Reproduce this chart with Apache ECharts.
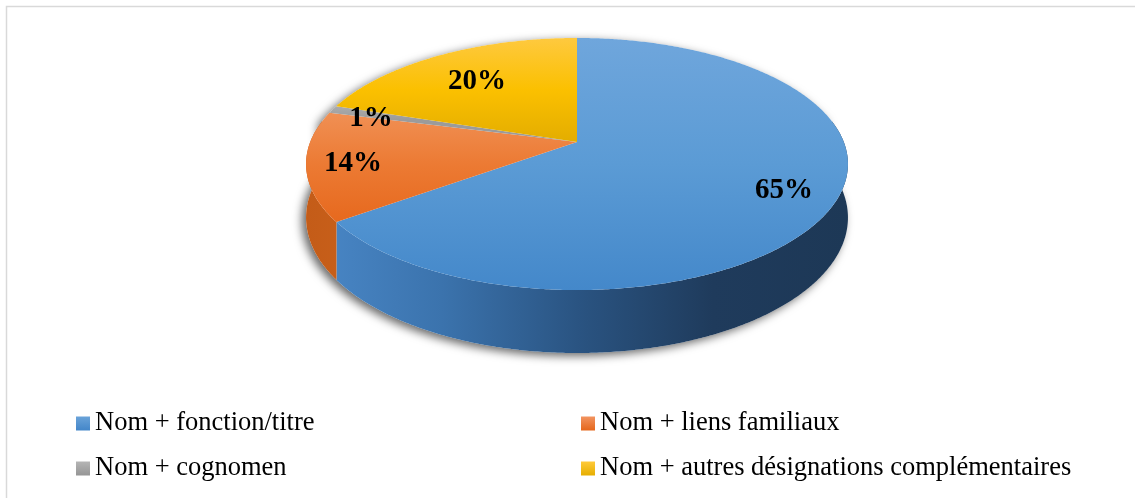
<!DOCTYPE html>
<html>
<head>
<meta charset="utf-8">
<script src="https://cdn.jsdelivr.net/npm/echarts@6/dist/echarts.min.js"></script>
<style>
  html, body { margin: 0; padding: 0; background: #fff; }
  #chart { width: 1135px; height: 498px; }
</style>
</head>
<body>
<div id="chart"></div>
<script>
// données
const categories = [
  'Nom + fonction/titre',
  'Nom + liens familiaux',
  'Nom + cognomen',
  'Nom + autres désignations complémentaires'
];
const values = [65, 14, 1, 20];

// géométrie du camembert 3D (disque vu en perspective)
const CX = 577, CY = 142;      // centre du disque projeté
const RX = 266.8, RY = 122.2;  // rayons
const PERSP = 0.1746;          // force de la perspective
const DEPTH = 52;              // épaisseur
const FONT = '"Liberation Serif", "Times New Roman", serif';

// ancrage des étiquettes, en coordonnées du disque (x, z)
const labelAnchor = [[0.726, 0.368], [-0.815, 0.167], [-0.799, -0.203], [-0.410, -0.537]];

const total = values.reduce((a, b) => a + b, 0);
const starts = [];
values.reduce((acc, v) => { starts.push(acc); return acc + v; }, 0);

function grad(x1, y1, x2, y2, stops) {
  return new echarts.graphic.LinearGradient(x1, y1, x2, y2,
    stops.map((c, k) => ({ offset: k / (stops.length - 1), color: c })), true);
}

const topFill = [
  grad(0, 38, 0, 290, ['#6fa6dc', '#5b9bd5', '#4488ca']),
  grad(0, 105, 0, 225, ['#f19359', '#ec7a33', '#e6681d']),
  grad(0, 100, 0, 120, ['#b3b3b3', '#9b9b9b']),
  grad(0, 38, 0, 142, ['#fec93f', '#fbc000', '#e3ad00'])
];
const wallFill = [
  grad(306, 0, 848, 0, ['#4a88c8', '#3b73ad', '#2a5482', '#1f3b5c', '#1d3856']),
  grad(306, 0, 848, 0, ['#c45c18', '#d46a22', '#a04a10', '#803a0a']),
  grad(306, 0, 848, 0, ['#909090', '#707070']),
  grad(306, 0, 848, 0, ['#c99a00', '#a07800'])
];
const legendFill = [
  grad(0, 0, 0, 1, ['#6aa3d9', '#4386c9']),
  grad(0, 0, 0, 1, ['#f29460', '#e5661b']),
  grad(0, 0, 0, 1, ['#b5b5b5', '#959595']),
  grad(0, 0, 0, 1, ['#ffca3a', '#e6ae00'])
];
legendFill.forEach(g => { g.global = false; });

function proj(theta, r, drop) {
  const t = theta * Math.PI / 180;
  const x = r * Math.sin(t), z = -r * Math.cos(t);
  const w = 1 - PERSP * z;
  return [CX + RX * x / w, CY + RY * z / w + (drop ? DEPTH / w : 0)];
}
function projXZ(x, z) {
  const w = 1 - PERSP * z;
  return [CX + RX * x / w, CY + RY * z / w];
}
function arc(a0, a1, drop) {
  const pts = [];
  for (let t = a0; t < a1; t += 0.5) pts.push(proj(t, 1, drop));
  pts.push(proj(a1, 1, drop));
  return pts;
}

function renderSlice(i) {
  return function (params, api) {
    const a0 = starts[i] / total * 360;
    const a1 = (starts[i] + api.value(0)) / total * 360;
    const children = [];
    if (i === 0) {
      // ombre portée sous le camembert
      const outline = arc(80, 280, true).concat(arc(280, 440, false));
      children.push({
        type: 'polygon', z2: -10, shape: { points: outline },
        style: { fill: '#fff', shadowBlur: 10, shadowColor: 'rgba(0,0,0,0.6)', shadowOffsetX: -4, shadowOffsetY: 3 }
      });
    }
    const w0 = Math.max(a0, 80), w1 = Math.min(a1, 280);
    if (w1 > w0) {
      const pts = arc(w0, w1, false).concat(arc(w0, w1, true).reverse());
      children.push({ type: 'polygon', z2: 1, shape: { points: pts }, style: { fill: wallFill[i] } });
    }
    children.push({
      type: 'polygon', z2: 10, shape: { points: [[CX, CY]].concat(arc(a0, a1, false)) },
      style: { fill: topFill[i] }
    });
    const p = projXZ(labelAnchor[i][0], labelAnchor[i][1]);
    children.push({
      type: 'text', z2: 20, x: p[0], y: p[1],
      style: {
        text: Math.round(api.value(0) / total * 100) + '%',
        font: 'bold 29px ' + FONT, fill: '#000', align: 'center', verticalAlign: 'middle'
      }
    });
    return { type: 'group', children: children };
  };
}

const chart = echarts.init(document.getElementById('chart'), null, { renderer: 'canvas' });

const legendBase = {
  orient: 'vertical', top: 405, itemWidth: 14, itemHeight: 14, itemGap: 18,
  icon: 'rect', selectedMode: false,
  textStyle: { fontFamily: FONT, fontSize: 26.5, color: '#000', lineHeight: 26 }
};

chart.setOption({
  animation: false,
  backgroundColor: '#fff',
  graphic: [{
    type: 'rect', shape: { x: 6.5, y: 6.5, width: 1140, height: 500 },
    style: { fill: 'none', stroke: '#d9d9d9', lineWidth: 1.5 }, silent: true
  }],
  legend: [
    Object.assign({ left: 71, data: [categories[0], categories[2]] }, legendBase),
    Object.assign({ left: 576, data: [categories[1], categories[3]] }, legendBase)
  ],
  series: categories.map((name, i) => ({
    type: 'custom',
    name: name,
    coordinateSystem: 'none',
    itemStyle: { color: legendFill[i] },
    data: [values[i]],
    renderItem: renderSlice(i)
  }))
});
</script>
</body>
</html>
